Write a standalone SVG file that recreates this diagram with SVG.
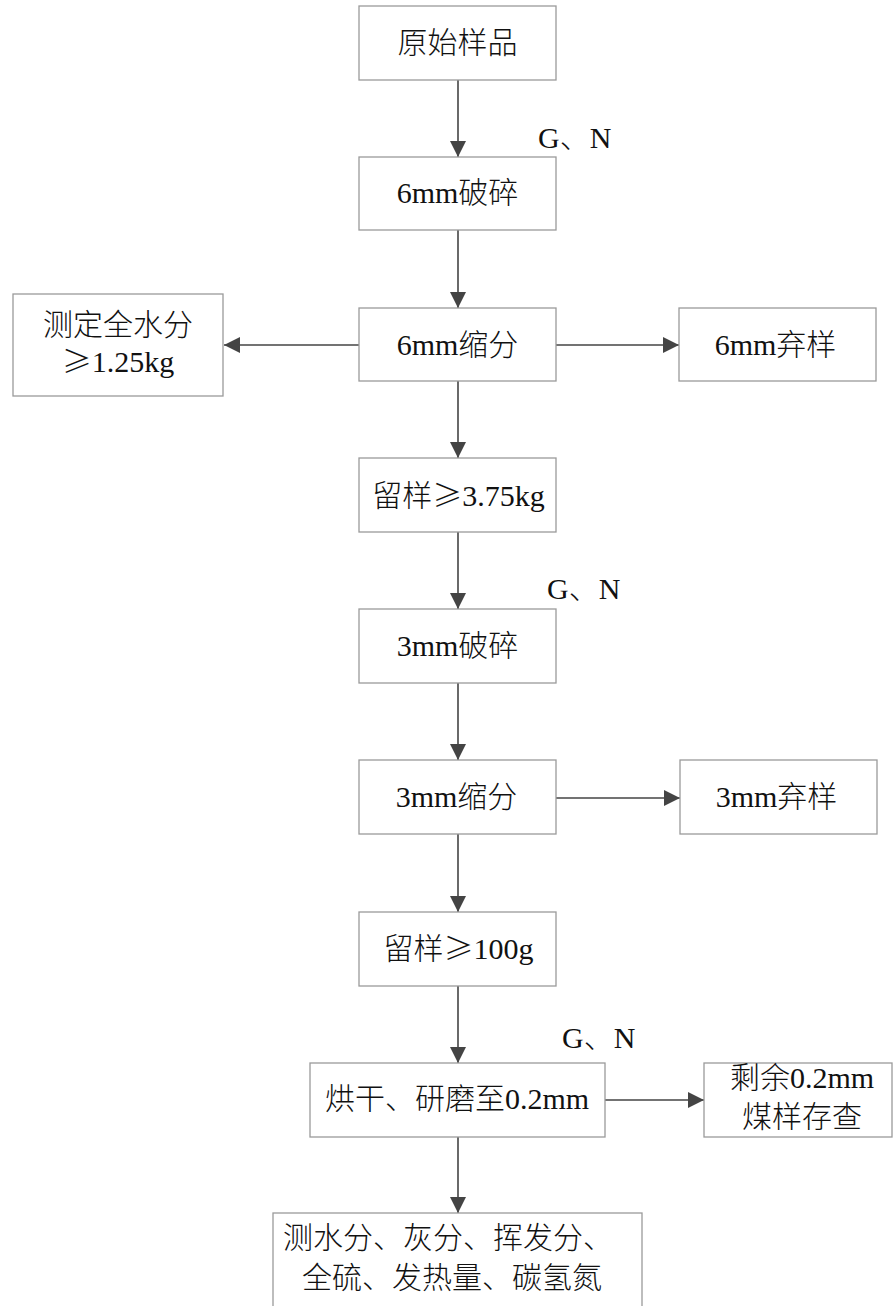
<svg xmlns="http://www.w3.org/2000/svg" width="893" height="1306" viewBox="0 0 893 1306">
<style>
.box{fill:#fff;stroke:#9a9a9a;stroke-width:1.3}
.t{font-family:"Liberation Serif","Noto Sans CJK SC",serif;font-size:30px;font-weight:300;fill:#111}
.c{text-anchor:middle}
.cjk{font-family:"Noto Sans CJK SC",sans-serif}
.ln{stroke:#444;stroke-width:1.6;fill:none;marker-end:url(#ah)}
</style>
<defs>
<marker id="ah" markerUnits="userSpaceOnUse" markerWidth="16" markerHeight="16" viewBox="0 0 14 14" refX="14" refY="7" orient="auto">
<path d="M0,0 L14,7 L0,14 z" fill="#444"/>
</marker>
</defs>
<g id="connectors">
<line class="ln" x1="458" y1="80" x2="458" y2="157"/>
<line class="ln" x1="458" y1="230" x2="458" y2="308"/>
<line class="ln" x1="359" y1="345" x2="224" y2="345"/>
<line class="ln" x1="556" y1="345" x2="679" y2="345"/>
<line class="ln" x1="458" y1="381" x2="458" y2="458"/>
<line class="ln" x1="458" y1="532" x2="458" y2="609"/>
<line class="ln" x1="458" y1="683" x2="458" y2="760"/>
<line class="ln" x1="556" y1="798" x2="680" y2="798"/>
<line class="ln" x1="458" y1="834" x2="458" y2="912"/>
<line class="ln" x1="458" y1="986" x2="458" y2="1063"/>
<line class="ln" x1="605" y1="1100" x2="704" y2="1100"/>
<line class="ln" x1="458" y1="1137" x2="458" y2="1213"/>
</g>
<g id="labels">
<text class="t" x="538" y="148">G、N</text>
<text class="t" x="547" y="599">G、N</text>
<text class="t" x="562" y="1048">G、N</text>
</g>
<g id="n1"><rect class="box" x="359" y="6" width="197" height="74"/><text class="t c" x="457.5" y="53">原始样品</text></g>
<g id="n2"><rect class="box" x="359" y="157" width="197" height="73"/><text class="t c" x="457.5" y="203">6mm破碎</text></g>
<g id="n3"><rect class="box" x="359" y="308" width="197" height="73"/><text class="t c" x="457.5" y="355">6mm缩分</text></g>
<g id="n4"><rect class="box" x="13" y="294" width="210" height="102"/><text class="t c" x="118" y="335">测定全水分</text><text class="t c" x="118" y="372"><tspan class="cjk">≥</tspan>1.25kg</text></g>
<g id="n5"><rect class="box" x="679" y="308" width="197" height="73"/><text class="t c" x="775.5" y="355">6mm弃样</text></g>
<g id="n6"><rect class="box" x="359" y="458" width="197" height="74"/><text class="t c" x="458.5" y="506">留样<tspan class="cjk">≥</tspan>3.75kg</text></g>
<g id="n7"><rect class="box" x="359" y="609" width="197" height="74"/><text class="t c" x="457.5" y="656">3mm破碎</text></g>
<g id="n8"><rect class="box" x="359" y="760" width="197" height="74"/><text class="t c" x="456.5" y="807">3mm缩分</text></g>
<g id="n9"><rect class="box" x="680" y="760" width="197" height="74"/><text class="t c" x="776.5" y="807">3mm弃样</text></g>
<g id="n10"><rect class="box" x="359" y="912" width="197" height="74"/><text class="t c" x="458.5" y="959">留样<tspan class="cjk">≥</tspan>100g</text></g>
<g id="n11"><rect class="box" x="310" y="1063" width="295" height="74"/><text class="t c" x="457" y="1109">烘干、研磨至0.2mm</text></g>
<g id="n12"><rect class="box" x="704" y="1063" width="188" height="74"/><text class="t c" x="802" y="1088">剩余0.2mm</text><text class="t c" x="802" y="1127">煤样存查</text></g>
<g id="n13"><rect class="box" x="273" y="1213" width="369" height="100"/><text class="t" x="283" y="1248">测水分、灰分、挥发分、</text><text class="t" x="302" y="1288">全硫、发热量、碳氢氮</text></g>
</svg>
